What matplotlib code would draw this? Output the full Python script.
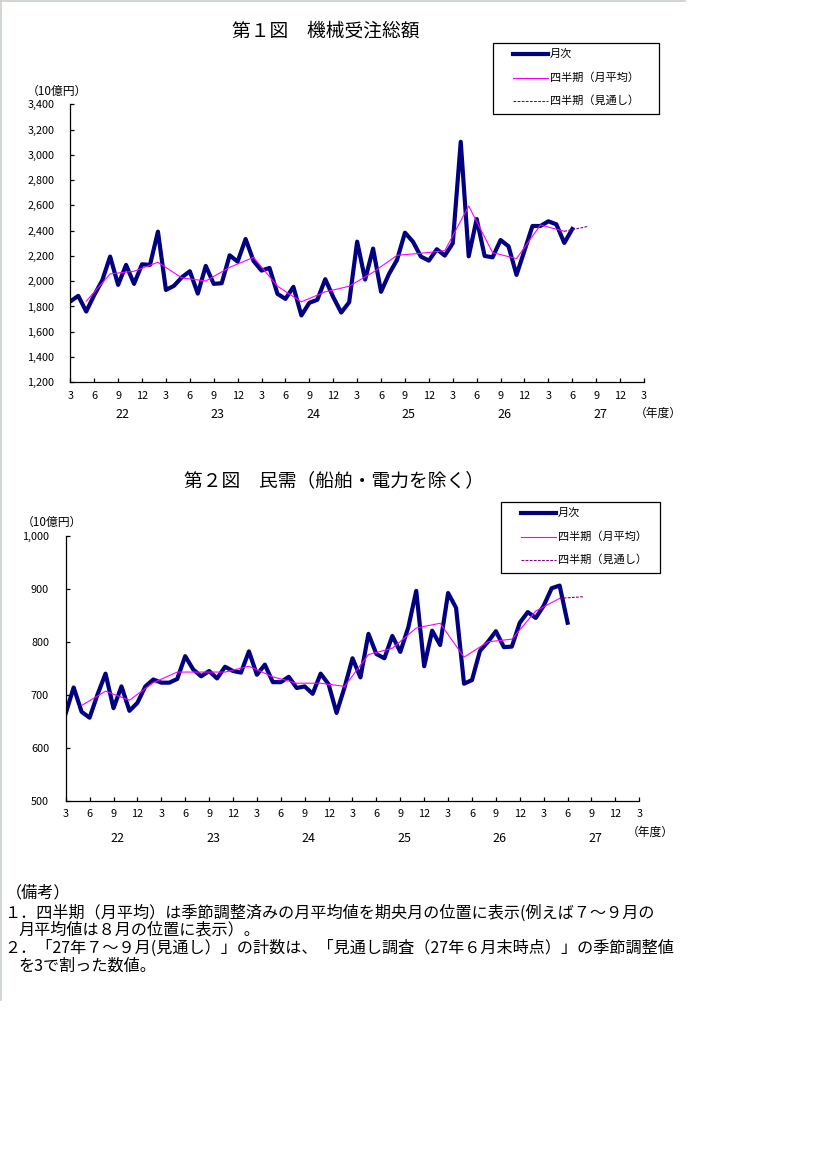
import numpy as np
import matplotlib.pyplot as plt
import matplotlib.transforms as mtransforms
from matplotlib.lines import Line2D
from matplotlib.patches import Rectangle

plt.rcParams['font.family'] = ['Noto Sans CJK JP', 'DejaVu Sans']

# month index 0 = March of FY21, 72 = March of FY27
month_idx = np.arange(64)
quarter_idx = np.arange(2, 63, 3)      # mid month of each quarter
forecast_idx = [62, 65]                # last quarter -> Jul-Sep FY27 outlook

tick_pos = np.arange(0, 73, 3)
tick_labels = ['3', '6', '9', '12'] * 6 + ['3']
fiscal_years = ['22', '23', '24', '25', '26', '27']

# 第1図 機械受注総額 (10億円)
total_monthly = [1840, 1884, 1760, 1890, 2005, 2195, 1971, 2129, 1979, 2134,
                 2129, 2392, 1931, 1963, 2031, 2079, 1902, 2121, 1979, 1984,
                 2205, 2155, 2334, 2160, 2084, 2105, 1900, 1860, 1955, 1729,
                 1829, 1853, 2016, 1874, 1752, 1834, 2313, 2013, 2258, 1916,
                 2058, 2168, 2384, 2313, 2195, 2163, 2253, 2203, 2300, 3103,
                 2197, 2492, 2200, 2189, 2326, 2276, 2050, 2242, 2437, 2437,
                 2474, 2450, 2303, 2413]
total_quarterly = [1842, 2058, 2079, 2150, 2026, 2002, 2110, 2189, 1960, 1837,
                   1916, 1960, 2071, 2205, 2221, 2242, 2595, 2226, 2179, 2445,
                   2395]
total_outlook = 2434

# 第2図 民需（船舶・電力を除く） (10億円)
private_monthly = [665, 714, 668, 657, 701, 740, 675, 716, 670, 685,
                   716, 729, 723, 723, 730, 773, 748, 735, 745, 731,
                   753, 745, 742, 782, 738, 757, 724, 724, 734, 713,
                   716, 702, 740, 720, 666, 714, 769, 733, 815, 777,
                   769, 811, 781, 827, 896, 754, 821, 794, 892, 864,
                   721, 728, 783, 800, 820, 790, 791, 836, 856, 845,
                   868, 901, 906, 836]
private_quarterly = [680, 707, 690, 723, 743, 743, 743, 754, 734, 722,
                     722, 716, 776, 788, 826, 835, 771, 800, 805, 858,
                     882]
private_outlook = 885

legend_labels = ['月次', '四半期（月平均）', '四半期（見通し）']

NAVY = '#000080'
PINK = '#FF00FF'
PURPLE = '#800080'

W, H = 819, 1149


def fx(x):
    return x / W


def fy(y):
    return 1 - y / H


fig = plt.figure(figsize=(W / 100, H / 100), dpi=100)
fig.patch.set_facecolor('white')

# sheet border lines
fig.add_artist(Line2D([fx(0), fx(685)], [fy(0.5), fy(0.5)], color='#c8d0c8', lw=1.2))
fig.add_artist(Line2D([fx(0.8), fx(0.8)], [fy(0), fy(1000)], color='#c8d0c8', lw=1.2))


def draw_chart(box, monthly, quarterly, outlook, ylim, ystep, fmt, ypad,
               year_y, unit_xy, nendo_xy, leg_box):
    left, top, right, bottom = box
    ax = fig.add_axes([fx(left), fy(bottom), (right - left) / W, (bottom - top) / H])
    ax.plot(month_idx, monthly, color=NAVY, lw=3.0, solid_joinstyle='round')
    ax.plot(quarter_idx, quarterly, color=PINK, lw=0.8)
    ax.plot(forecast_idx, [quarterly[-1], outlook], color=PURPLE, lw=0.8,
            linestyle=(0, (2.5, 1.2)))
    ax.set_xlim(0, 72)
    ax.set_ylim(*ylim)
    yt = np.arange(ylim[0], ylim[1] + 1, ystep)
    ax.set_yticks(yt)
    ax.set_yticklabels([fmt(v) for v in yt])
    ax.set_xticks(tick_pos)
    ax.set_xticklabels(tick_labels)
    for s in ['top', 'right']:
        ax.spines[s].set_visible(False)
    for s in ['left', 'bottom']:
        ax.spines[s].set_linewidth(0.9)
    ax.tick_params(axis='y', direction='in', length=3, width=0.9, pad=ypad, labelsize=7.8)
    ax.tick_params(axis='x', direction='in', length=3, width=0.9, pad=6, labelsize=7.8)

    trans = mtransforms.blended_transform_factory(ax.transData, fig.transFigure)
    for k, yr in enumerate(fiscal_years):
        ax.text(6.5 + 12 * k, fy(year_y), yr, transform=trans, ha='center',
                va='center', fontsize=9)
    fig.text(fx(nendo_xy[0]), fy(nendo_xy[1]), '（年度）', ha='center', va='center', fontsize=8.5)
    fig.text(fx(unit_xy[0]), fy(unit_xy[1]), '（10億円）', ha='center', va='center', fontsize=8.5)

    # legend box
    lx0, ly0, lx1, ly1 = leg_box
    fig.add_artist(Rectangle((fx(lx0), fy(ly1)), (lx1 - lx0) / W, (ly1 - ly0) / H,
                             fill=False, edgecolor='black', lw=0.9))
    rows = [ly0 + 11, ly0 + 35, ly0 + 58]
    styles = [dict(color=NAVY, lw=3.0), dict(color=PINK, lw=0.8),
              dict(color=PURPLE, lw=0.8, linestyle=(0, (2.5, 1.2)))]
    for ry, st, lab in zip(rows, styles, legend_labels):
        fig.add_artist(Line2D([fx(lx0 + 20), fx(lx0 + 55)], [fy(ry), fy(ry)], **st))
        fig.text(fx(lx0 + 57), fy(ry), lab, ha='left', va='center', fontsize=8)
    return ax


fig.text(fx(326), fy(31), '第１図　機械受注総額', ha='center', va='center', fontsize=13.5)
draw_chart((70.3, 104.3, 644, 382.3), total_monthly, total_quarterly, total_outlook,
           (1200, 3400), 200, lambda v: f'{v:,}', 11.5,
           414, (57, 91), (658, 413), (493, 43, 659, 114))

fig.text(fx(334), fy(481), '第２図　民需（船舶・電力を除く）', ha='center', va='center', fontsize=13.5)
draw_chart((65.7, 535.7, 639.3, 801), private_monthly, private_quarterly, private_outlook,
           (500, 1000), 100, lambda v: f'{v:,}', 12,
           838, (52, 522), (650, 832), (501, 502, 660, 573))

notes = [
    (6, 893, '（備考）'),
    (4, 913, '１．四半期（月平均）は季節調整済みの月平均値を期央月の位置に表示(例えば７～９月の'),
    (18, 930, '月平均値は８月の位置に表示）。'),
    (4, 948, '２．「27年７～９月(見通し）」の計数は、「見通し調査（27年６月末時点）」の季節調整値'),
    (18, 966, 'を3で割った数値。'),
]
for x, y, t in notes:
    fig.text(fx(x), fy(y), t, ha='left', va='center', fontsize=11.6)

fig.savefig('out.png', dpi=100, facecolor='white')
